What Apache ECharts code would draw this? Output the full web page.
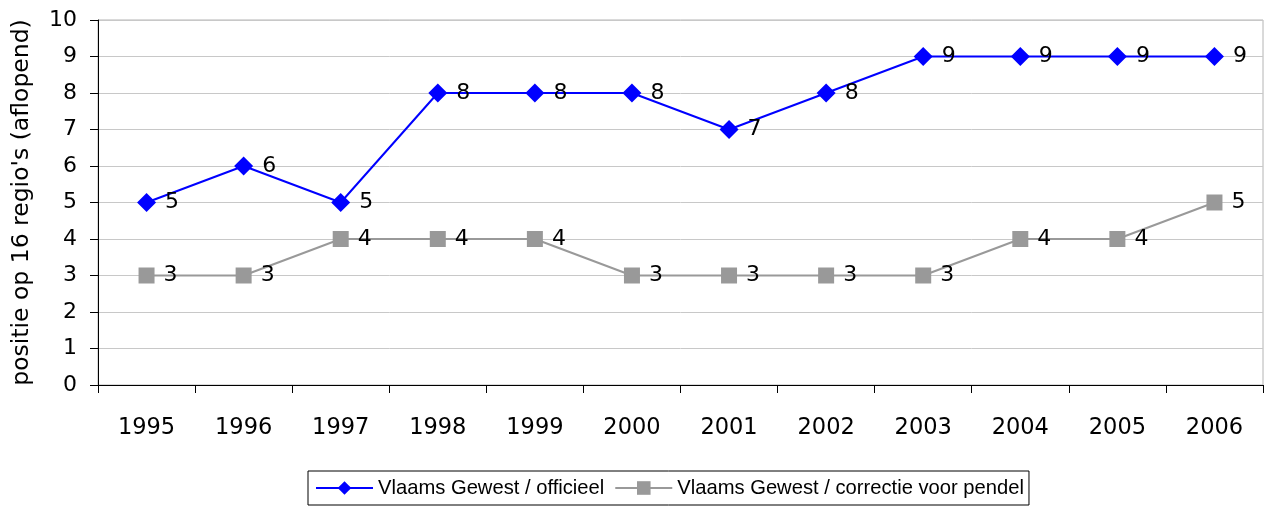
<!DOCTYPE html>
<html>
<head>
<meta charset="utf-8">
<script src="https://cdn.jsdelivr.net/npm/echarts@6/dist/echarts.min.js"></script>
<style>
  html, body { margin: 0; padding: 0; background: #fff; }
  #chart { width: 1265px; height: 509px; }
</style>
</head>
<body>
<div id="chart"></div>
<script>
// jaren op de x-as
var years = ['1995', '1996', '1997', '1998', '1999', '2000', '2001', '2002', '2003', '2004', '2005', '2006'];
// positie op 16 regio's
var officieel = [5, 6, 5, 8, 8, 8, 7, 8, 9, 9, 9, 9];
var correctiePendel = [3, 3, 4, 4, 4, 3, 3, 3, 3, 4, 4, 5];
var seriesNames = ['Vlaams Gewest / officieel', 'Vlaams Gewest / correctie voor pendel'];
var yAxisName = "positie op 16 regio's (aflopend)";

var font = 'DejaVu Sans';
var chart = echarts.init(document.getElementById('chart'));

var labelStyle = {
  show: true,
  position: 'right',
  distance: 9,
  color: '#000',
  fontFamily: font,
  fontSize: 22
};

chart.setOption({
  animation: false,
  grid: {
    left: 98, right: 2, top: 20, bottom: 124,
    show: true, borderColor: '#b4b4b4', borderWidth: 1
  },
  legend: {
    left: 308, top: 471,
    itemWidth: 57, itemHeight: 17, itemGap: 10,
    padding: [7, 5, 7, 7],
    borderColor: '#000', borderWidth: 1,
    textStyle: { fontFamily: 'Liberation Sans', fontSize: 20.2, color: '#000' },
    data: seriesNames
  },
  xAxis: {
    type: 'category',
    data: years,
    boundaryGap: true,
    axisLine: { lineStyle: { color: '#000', width: 1 } },
    axisTick: { show: true, length: 8, lineStyle: { color: '#000' } },
    axisLabel: { margin: 32, color: '#000', fontFamily: font, fontSize: 22.5 }
  },
  yAxis: {
    type: 'value',
    min: 0, max: 10, interval: 1,
    name: yAxisName,
    nameLocation: 'middle',
    nameGap: 64,
    nameTextStyle: { color: '#000', fontFamily: font, fontSize: 23.5 },
    axisLine: { show: true, lineStyle: { color: '#000', width: 1 } },
    axisTick: { show: true, length: 8, lineStyle: { color: '#000' } },
    axisLabel: { margin: 21, color: '#000', fontFamily: font, fontSize: 22 },
    splitLine: { show: true, lineStyle: { color: '#c8c8c8', width: 1 } }
  },
  series: [
    {
      name: seriesNames[0],
      type: 'line',
      data: officieel,
      symbol: 'diamond',
      symbolSize: 19,
      lineStyle: { color: '#0000ff', width: 2 },
      itemStyle: { color: '#0000ff' },
      label: labelStyle,
      z: 3
    },
    {
      name: seriesNames[1],
      type: 'line',
      data: correctiePendel,
      symbol: 'rect',
      symbolSize: 16,
      lineStyle: { color: '#999999', width: 2 },
      itemStyle: { color: '#999999' },
      label: labelStyle,
      z: 2
    }
  ]
});
</script>
</body>
</html>
